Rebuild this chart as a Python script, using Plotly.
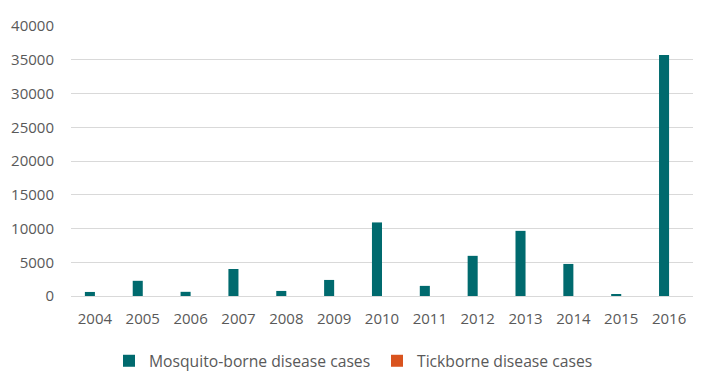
import plotly.graph_objects as go

years = ["2004", "2005", "2006", "2007", "2008", "2009", "2010", "2011", "2012", "2013", "2014", "2015", "2016"]
mosquito = [600, 2250, 620, 4000, 750, 2380, 10900, 1500, 5950, 9650, 4750, 170, 35700]
tick = [0, 0, 0, 0, 0, 0, 0, 0, 0, 0, 0, 0, 0]

fig = go.Figure()
fig.add_trace(go.Bar(x=years, y=mosquito, name="Mosquito-borne disease cases",
                     marker=dict(color="#006A6E", line=dict(width=0))))
fig.add_trace(go.Bar(x=years, y=tick, name="Tickborne disease cases",
                     marker=dict(color="#D9531E", line=dict(width=0))))

fig.update_layout(
    width=713, height=386,
    margin=dict(l=63, r=28, t=18, b=98, autoexpand=False),
    paper_bgcolor="white", plot_bgcolor="white",
    barmode="group", bargap=0.58, bargroupgap=0,
    font=dict(family="Open Sans, sans-serif", size=15, color="#595959"),
    showlegend=True,
    legend=dict(orientation="h", x=0.0611, xanchor="left", y=-0.178, yanchor="top",
                font=dict(size=15.7, color="#595959"), itemwidth=30, traceorder="normal",
                entrywidth=223),
    xaxis=dict(type="category", showgrid=False, showline=False, ticks="", automargin=False,
               tickfont=dict(size=15, color="#595959"), ticklabelstandoff=12),
    yaxis=dict(range=[0, 40000], dtick=5000, tickformat="d", showgrid=True, automargin=False,
               gridcolor="#D9D9D9", gridwidth=1,
               zeroline=True, zerolinecolor="#D9D9D9", zerolinewidth=1, showline=False,
               ticks="", tickfont=dict(size=15, color="#595959"), ticklabelstandoff=16),
)

fig.write_html("out.html")
